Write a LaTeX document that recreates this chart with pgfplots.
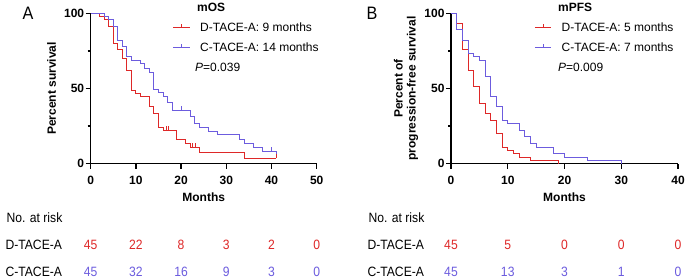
\documentclass[border=0pt]{standalone}
\usepackage{fontspec}
\setmainfont{Liberation Sans}
\newfontfamily\narrowfont[FakeStretch=0.9]{Liberation Sans}
\usepackage{pgfplots}
\pgfplotsset{compat=1.18}
\definecolor{kmred}{RGB}{222,40,40}
\definecolor{kmblue}{RGB}{108,92,222}
\pgfdeclareplotmark{cens}{\pgfpathmoveto{\pgfpointorigin}\pgfpathlineto{\pgfpoint{0pt}{4pt}}\pgfusepathqstroke}
\pgfplotsset{kmaxis/.style={
  scale only axis, height=150.4pt,
  axis lines=left, axis line style={line width=1.3pt,-},
  ymin=0, ymax=100, ytick={0,50,100}, minor ytick={25,75},
  tick align=outside, major tick length=5pt, minor tick length=3pt,
  every tick/.style={line width=1.3pt, black},
  /pgf/number format/assume math mode=true,
  tick label style={font=\fontsize{12}{14}\selectfont\bfseries},
  xticklabel style={yshift=-3.5pt},
  yticklabel style={xshift=2pt},
  label style={font=\fontsize{12}{13}\selectfont\bfseries},
  xlabel style={at={(axis description cs:0.5,-0.2214)}, anchor=center},
  clip=false,
  legend cell align=left,
  legend image code/.code={\draw[#1,line width=1pt] (0pt,0pt) -- (16.6pt,0pt); \draw[#1,line width=1pt] (8.3pt,0pt) -- (8.3pt,3pt); \path (26.3pt,0pt);},
  legend style={draw=none, fill=none, inner sep=0pt, anchor=north west,
    font=\fontsize{12}{14}\selectfont,
    nodes={inner sep=0pt, text height=8.6pt, text depth=0pt},
    row sep=11.4pt},
}}
\begin{document}
\begin{tikzpicture}
\path[use as bounding box] (0pt,0pt) rectangle (685pt,279pt);
% ---------- Panel A ----------
\begin{axis}[kmaxis, at={(90.7pt,115.3pt)}, anchor=south west, width=226pt,
  xmin=0, xmax=50, xtick={0,10,20,30,40,50},
  xlabel={Months},
  ylabel={Percent survival},
  ylabel style={at={(axis description cs:-0.1726,0.5)}, anchor=center},
  title={mOS},
  title style={at={(axis description cs:0.4704,1.002)}, anchor=west, inner sep=0pt, font=\fontsize{12}{14}\selectfont\bfseries},
  legend style={at={(axis description cs:0.3628,0.9361)}}]
\addplot[const plot, kmred, line width=1pt] coordinates {
(0,100) (2,97.8) (3,95.6) (4,91.1) (5,80.0) (6,75.6) (7,70.0) (8,62.2)
(9,48.9) (10,46.7) (11,44.4) (13,37.8) (14,33.3) (15,24.4) (16,22.2)
(19,15.9) (21,13.4) (22,11.1) (24,7.4) (34,3.7) (41,3.7)};
\addlegendentry{D-TACE-A: 9 months}
\addplot[const plot, kmblue, line width=1pt] coordinates {
(0,100) (3,97.8) (4,95.6) (5,91.1) (6,82.2) (7,77.8) (8,71.1) (9,68.9)
(11,66.7) (12,63.5) (13,60.5) (14,49.5) (15,47.2) (16,44.6) (17,40.6)
(18,35.7) (22,31.3) (23,26.9) (24,24.0) (26,21.3) (28,19.1) (33,16.2)
(34,13.5) (36,10.7) (38,8.4) (41,8.4) (41,6.0)};
\addlegendentry{C-TACE-A: 14 months}
\addplot[only marks, mark=cens, kmred, mark options={line width=1pt}, forget plot] coordinates {
(16.7,22.2) (17.3,22.2) (22.5,11.1) (23.2,11.1) (41,3.7)};
\addplot[only marks, mark=cens, kmblue, mark options={line width=1pt}, forget plot] coordinates {
(20,35.7) (40,8.4)};
\node[anchor=west, font=\fontsize{12}{14}\selectfont, inner sep=0pt] at (axis description cs:0.4615,0.643) {\textit{P}=0.039};
\end{axis}
% ---------- Panel B ----------
\begin{axis}[kmaxis, at={(451pt,115.3pt)}, anchor=south west, width=227pt,
  xmin=0, xmax=40, xtick={0,10,20,30,40},
  xlabel={Months},
  ylabel={Percent of\\progression-free survival},
  ylabel style={align=center, at={(axis description cs:-0.198,0.5)}, anchor=center},
  title={mPFS},
  title style={at={(axis description cs:0.4714,1.002)}, anchor=west, inner sep=0pt, font=\fontsize{12}{14}\selectfont\bfseries},
  legend style={at={(axis description cs:0.3664,0.9361)}}]
\addplot[const plot, kmred, line width=1pt] coordinates {
(0,100) (1,93.3) (2,75.6) (3,62.2) (4,51.1) (5,40.0) (6,33.3) (7,28.9)
(8,20.0) (9,11.1) (10,8.9) (11,6.7) (12,4.4) (14,2.2) (19,2.2) (19,0)};
\addlegendentry{D-TACE-A: 5 months}
\addplot[const plot, kmblue, line width=1pt] coordinates {
(0,100) (1,88.9) (2,82.2) (3,73.3) (4,71.1) (5,68.9) (6,57.8) (7,44.4)
(8,37.8) (9,28.9) (10,26.7) (12,22.2) (13,17.8) (14,13.3) (15,11.1)
(18,6.7) (20,4.4) (24,2.2) (30,2.2) (30,0)};
\addlegendentry{C-TACE-A: 7 months}
\node[anchor=west, font=\fontsize{12}{14}\selectfont, inner sep=0pt] at (axis description cs:0.4714,0.643) {\textit{P}=0.009};
\end{axis}
% ---------- Risk tables ----------
\begin{scope}[every node/.style={font=\narrowfont\fontsize{13.5}{16}\selectfont}]
\node[anchor=west] at (3pt,61pt) {No. at risk};
\node[anchor=west] at (2pt,34pt) {D-TACE-A};
\node[anchor=west] at (2pt,7pt) {C-TACE-A};
\node[anchor=west] at (365pt,61pt) {No. at risk};
\node[anchor=west] at (364pt,34pt) {D-TACE-A};
\node[anchor=west] at (364pt,7pt) {C-TACE-A};
\foreach \x/\v in {90.7/45,135.9/22,181.1/8,226.3/3,271.5/2,316.7/0}
  \node[text=kmred] at (\x pt,34pt) {\v};
\foreach \x/\v in {90.7/45,135.9/32,181.1/16,226.3/9,271.5/3,316.7/0}
  \node[text=kmblue] at (\x pt,7pt) {\v};
\foreach \x/\v in {451/45,507.75/5,564.5/0,621.25/0,678/0}
  \node[text=kmred] at (\x pt,34pt) {\v};
\foreach \x/\v in {451/45,507.75/13,564.5/3,621.25/1,678/0}
  \node[text=kmblue] at (\x pt,7pt) {\v};
\end{scope}
\node[font=\narrowfont\fontsize{18}{20}\selectfont] at (28pt,265.5pt) {A};
\node[font=\narrowfont\fontsize{18}{20}\selectfont] at (372pt,265.5pt) {B};
\end{tikzpicture}
\end{document}
